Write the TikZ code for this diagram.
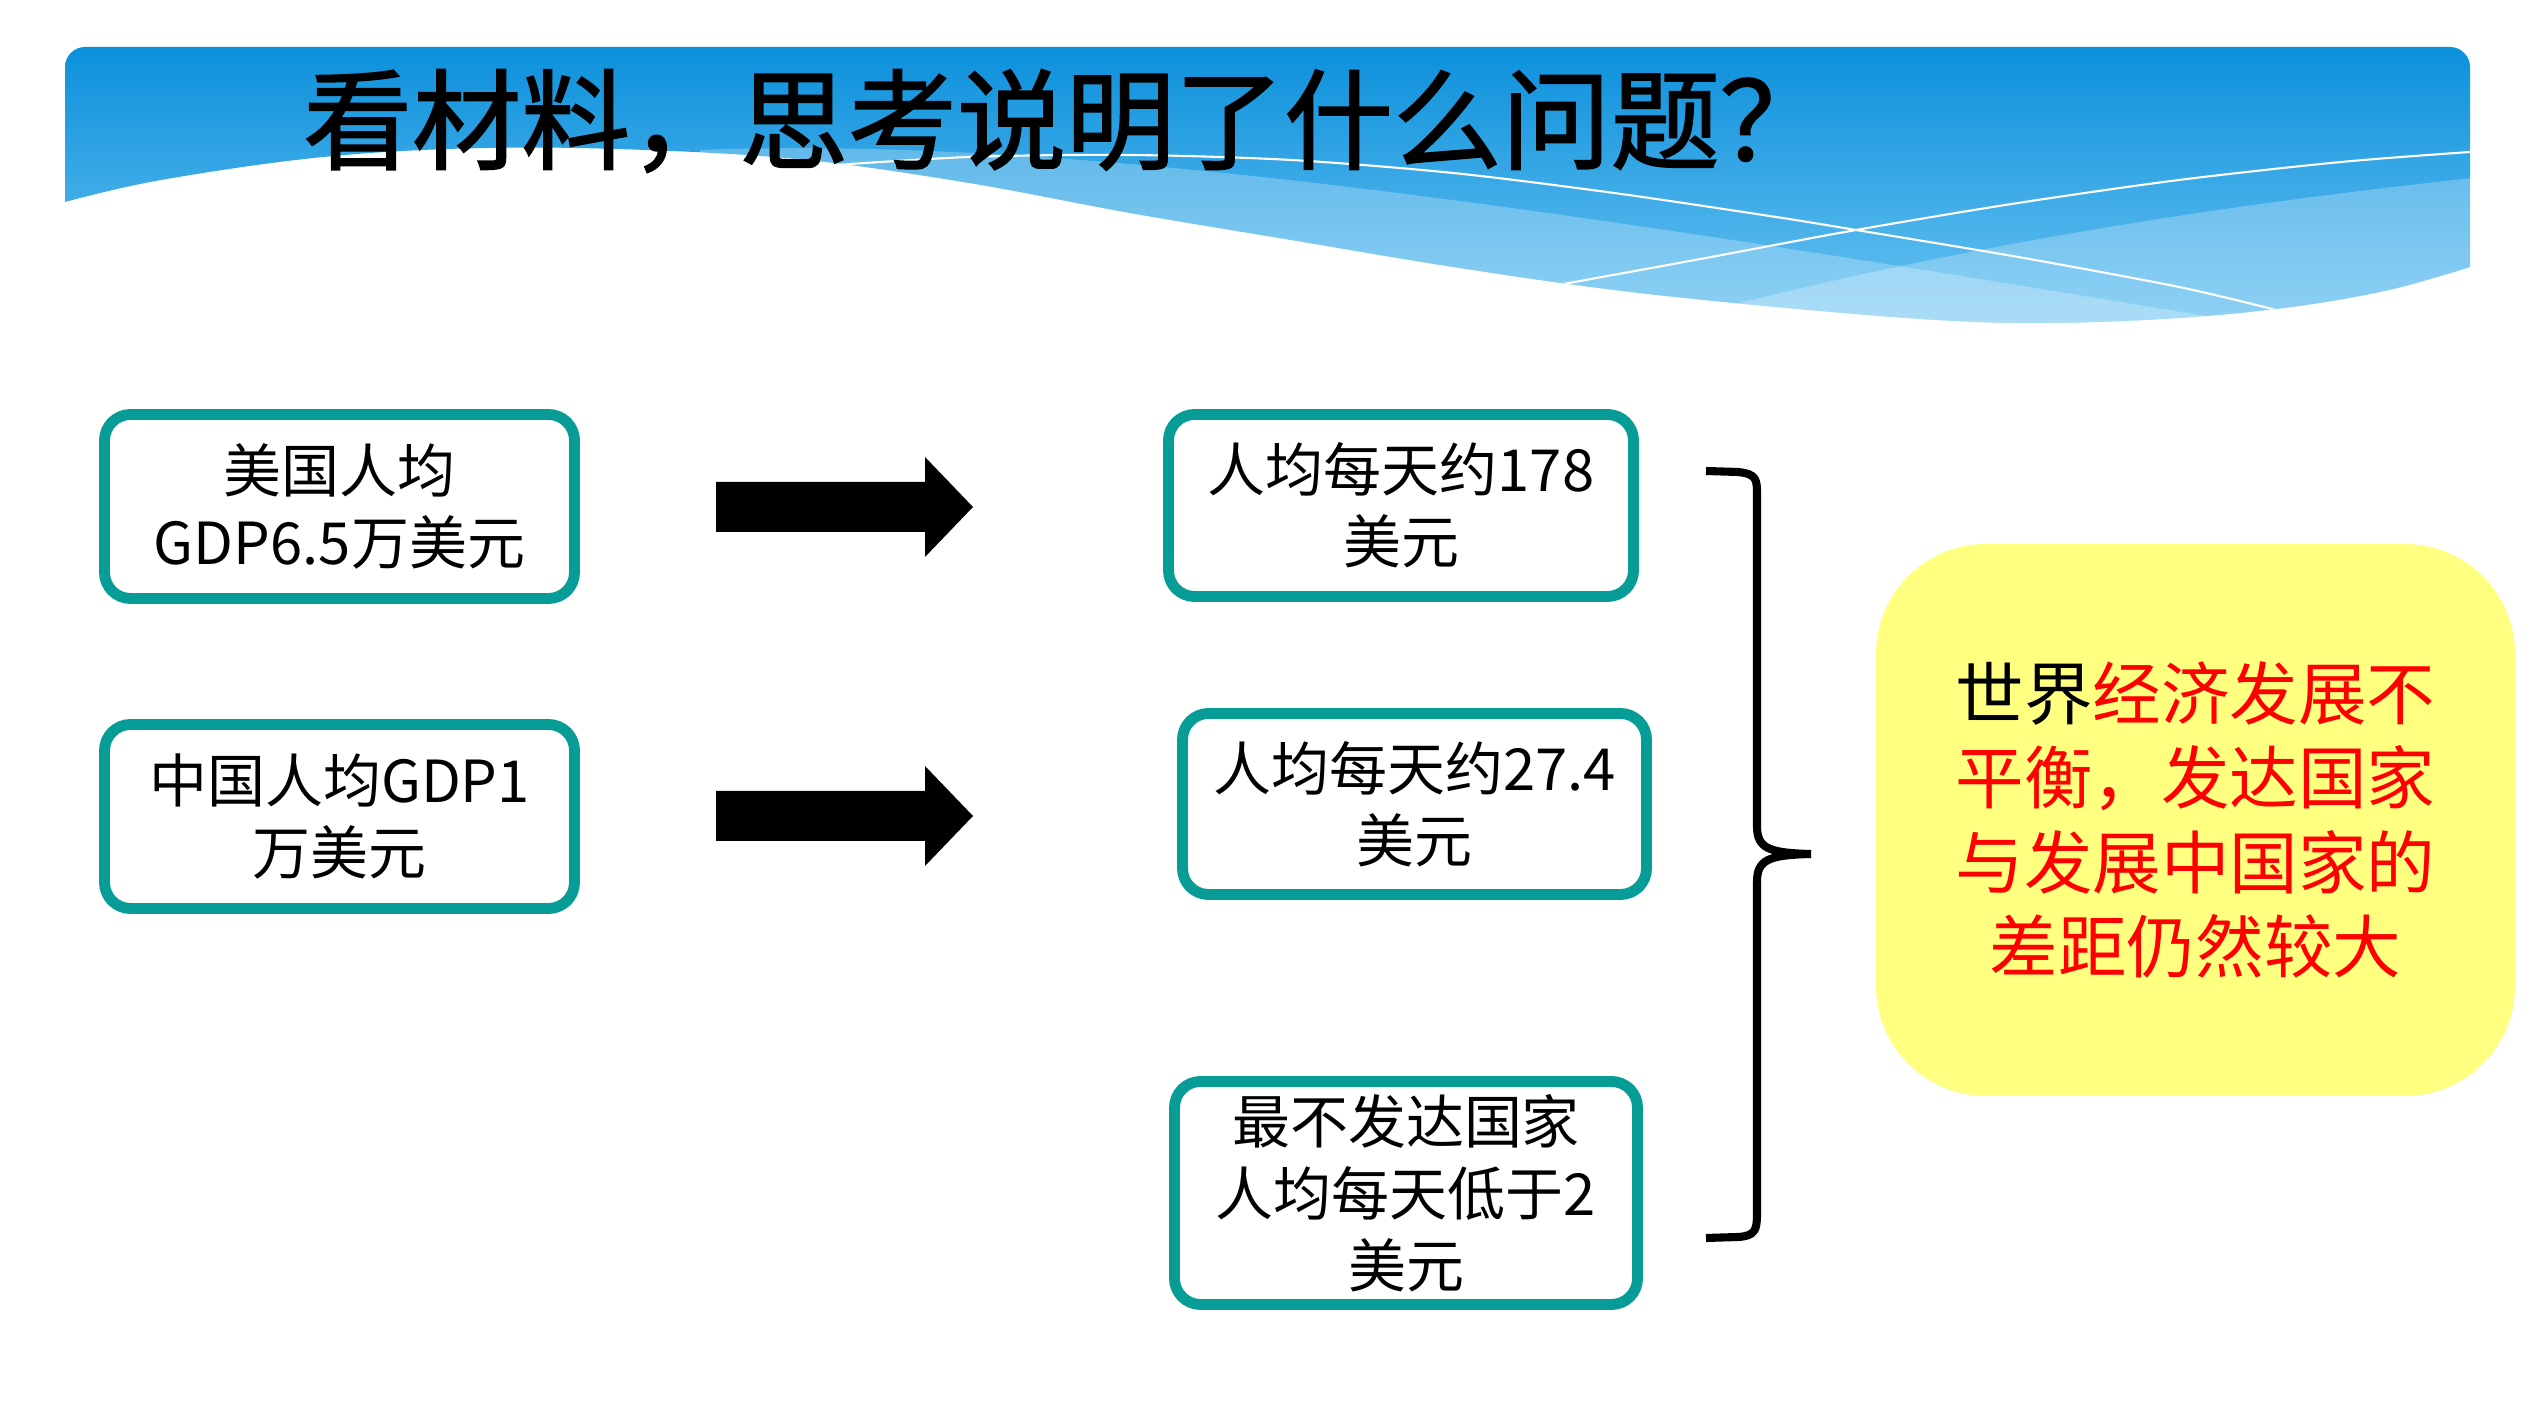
\documentclass[tikz,border=0pt]{standalone}
\usepackage{fontspec}
\setmainfont{Noto Sans CJK SC}
\newfontfamily\titlefont[FakeBold=1.5]{Noto Sans CJK SC}
\definecolor{tealb}{HTML}{079C96}
\definecolor{bandtop}{HTML}{0A8FDB}
\definecolor{bandbot}{HTML}{6CC4F2}
\definecolor{noteyellow}{HTML}{FFFF80}
\definecolor{notered}{HTML}{FF0000}
\tikzset{
  infobox/.style={draw=tealb, line width=3.1pt, rounded corners=2.6mm, fill=white,
    align=center, inner sep=0pt, font=\fontsize{16.5pt}{20.5pt}\selectfont},
  blockarrow/.style={fill=black},
  bracestyle/.style={draw=black, line width=2.3pt},
  notebox/.style={fill=noteyellow, rounded corners=11mm, inner sep=0pt, align=center,
    font=\fontsize{19.5pt}{24pt}\selectfont},
  wavestroke/.style={draw=white, line width=0.6pt}
}
\begin{document}
\begin{tikzpicture}[x=0.1mm,y=-0.1mm]
\useasboundingbox (0,0) rectangle (2531,1423);
\fill[white] (0,0) rectangle (2531,1423);

% header band
\begin{scope}
\clip (65,202) -- (65,67) .. controls (65,56) and (74,47) .. (85,47) -- (2450,47)
  .. controls (2461,47) and (2470,56) .. (2470,67) -- (2470,267)
  -- plot[smooth, tension=0.6] coordinates {(2470,267) (2389,290) (2292,307) (2179,318) (2050,323) (1937,320) (1776,307) (1614,290) (1453,267) (1291,240) (1130,213) (969,183) (807,160) (646,150) (484,148) (323,157) (161,180) (65,202)} -- cycle;
\shade[top color=bandtop, bottom color=bandbot] (0,40) rectangle (2531,330);
\fill[white, opacity=0.25] (700,150) .. controls (1100,135) and (1600,215) .. (2350,340) -- (700,340) -- cycle;
\fill[white, opacity=0.25] (2531,172) .. controls (2200,205) and (1900,255) .. (1600,340) -- (2531,340) -- cycle;
\draw[wavestroke] plot[smooth] coordinates {(807,167) (969,157) (1130,155) (1291,160) (1453,173) (1614,193) (1776,217) (1856,230) (2018,257) (2179,287) (2276,310)};
\draw[wavestroke] plot[smooth] coordinates {(1558,285) (1695,260) (1856,230) (2018,203) (2179,180) (2341,162) (2470,152)};
\end{scope}

\node[font=\titlefont\fontsize{31pt}{35pt}\selectfont, inner sep=0pt] (title) at (1066,121) {看材料，思考说明了什么问题？};

% left boxes
\node[infobox, minimum width=47mm, minimum height=18.4mm] (usa) at (339.5,506.5) {美国人均\\GDP6.5万美元};
\node[infobox, minimum width=47mm, minimum height=18.4mm] (china) at (339.5,816.5) {中国人均GDP1\\万美元};

% block arrows
\coordinate (arr1) at (716,507);
\coordinate (arr2) at (716,816);
\fill[blockarrow, shift={(arr1)}] (0,-25) -- (209,-25) -- (209,-50) -- (257,0) -- (209,50) -- (209,25) -- (0,25) -- cycle;
\fill[blockarrow, shift={(arr2)}] (0,-25) -- (209,-25) -- (209,-50) -- (257,0) -- (209,50) -- (209,25) -- (0,25) -- cycle;

% right boxes
\node[infobox, minimum width=46.5mm, minimum height=18.2mm] (d178) at (1401,505.5) {人均每天约178\\美元};
\node[infobox, minimum width=46.4mm, minimum height=18.1mm] (d274) at (1414.5,804) {人均每天约27.4\\美元};
\node[infobox, minimum width=46.3mm, minimum height=22.3mm] (dleast) at (1406,1193) {最不发达国家\\人均每天低于2\\美元};

% brace
\coordinate (btop) at (1706,471);
\coordinate (bmid) at (1811,854);
\coordinate (bbot) at (1706,1238);
\draw[bracestyle] (btop) -- (1738,472) .. controls (1757,474) and (1757,480) .. (1757,495)
  -- (1757,826) .. controls (1757,848) and (1768,853) .. (bmid)
  .. controls (1768,855) and (1757,860) .. (1757,882)
  -- (1757,1214) .. controls (1757,1230) and (1755,1236) .. (1738,1237) -- (bbot);

% conclusion
\node[notebox, minimum width=63.9mm, minimum height=55.2mm] (concl) at (2195.5,820)
  {世界\textcolor{notered}{经济发展不}\\\textcolor{notered}{平衡，发达国家}\\\textcolor{notered}{与发展中国家的}\\\textcolor{notered}{差距仍然较大}};
\end{tikzpicture}
\end{document}
